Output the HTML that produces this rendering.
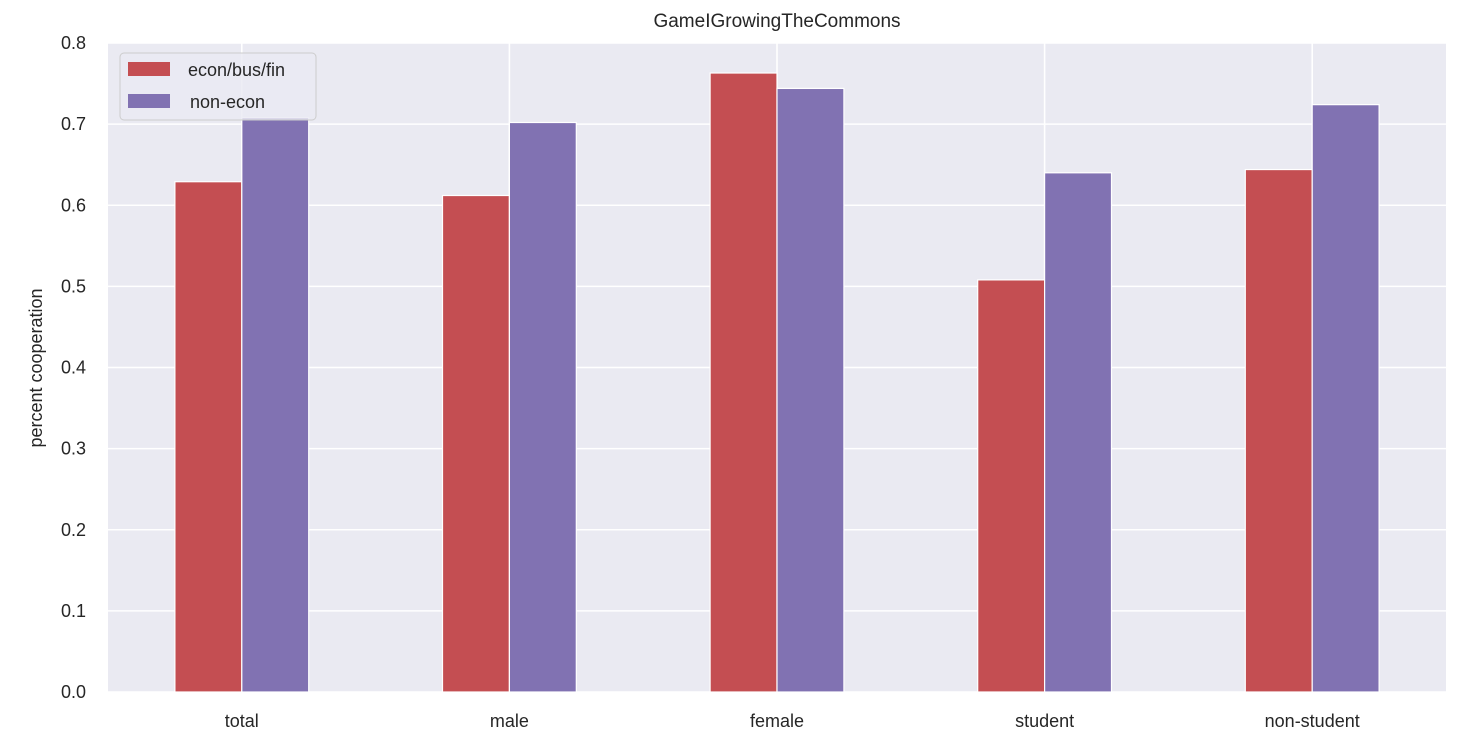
<!DOCTYPE html>
<html><head><meta charset="utf-8"><style>
html,body{margin:0;padding:0;background:#fff;}
svg{display:block;font-family:"Liberation Sans",Arial,sans-serif;}
</style></head><body>
<svg id="chart" width="1472" height="734" viewBox="0 0 1472 734">
<rect x="108" y="43" width="1338" height="649" fill="#eaeaf2"/>
<g id="grid"></g>
<g id="bars"></g>
<g id="axes"></g>
<text x="777" y="27" text-anchor="middle" font-size="19" fill="#262626">GameIGrowingTheCommons</text>
<text transform="translate(42,368) rotate(-90)" text-anchor="middle" font-size="18" fill="#262626">percent cooperation</text>
<g>
<rect x="120" y="53" width="196" height="67" rx="4" fill="#eaeaf2" fill-opacity="0.8" stroke="#cccccc"/>
<g>
<rect x="128" y="62" width="42" height="14" fill="#c44e52"/>
<text x="188" y="76" font-size="18" fill="#262626">econ/bus/fin</text></g>
<g>
<rect x="128" y="94" width="42" height="14" fill="#8172b2"/>
<text x="190" y="108" font-size="18" fill="#262626">non-econ</text></g>
</g>
</svg>
<script>
const categories=["total","male","female","student","non-student"];
const econ=[0.629,0.612,0.763,0.508,0.644];
const nonEcon=[0.708,0.702,0.744,0.640,0.724];
const yTicks=[0.0,0.1,0.2,0.3,0.4,0.5,0.6,0.7,0.8];
const NS="http://www.w3.org/2000/svg";
const L=108,R=1446,T=43,B=692,ymax=0.8;
const step=(R-L)/categories.length;
const y=v=>B-(v/ymax)*(B-T);
const xc=i=>L+step*(i+0.5);
const bw=step*0.25;
const grid=document.getElementById('grid'),bars=document.getElementById('bars'),axes=document.getElementById('axes');
function mk(t,a,p){const e=document.createElementNS(NS,t);for(const k in a)e.setAttribute(k,a[k]);p.appendChild(e);return e;}
yTicks.forEach(v=>{
 const l=mk('line',{x1:L,x2:R,y1:y(v),y2:y(v),stroke:'#fff','stroke-width':1.6},grid);
 
 
 const t=mk('text',{x:86,y:y(v)+6,'text-anchor':'end','font-size':18,fill:'#262626'},axes);
 t.textContent=v.toFixed(1);
 
 
});
categories.forEach((c,i)=>{
 const g=mk('line',{x1:xc(i),x2:xc(i),y1:T,y2:B,stroke:'#fff','stroke-width':1.6},grid);
 
 
 const r1=mk('rect',{x:xc(i)-bw,y:y(econ[i]),width:bw,height:B-y(econ[i]),fill:'#c44e52',stroke:'#fff','stroke-width':1.2},bars);
 
 
 const r2=mk('rect',{x:xc(i),y:y(nonEcon[i]),width:bw,height:B-y(nonEcon[i]),fill:'#8172b2',stroke:'#fff','stroke-width':1.2},bars);
 
 
 const t=mk('text',{x:xc(i),y:727,'text-anchor':'middle','font-size':18,fill:'#262626'},axes);
 t.textContent=c;
 
 
});
</script>
</body></html>
